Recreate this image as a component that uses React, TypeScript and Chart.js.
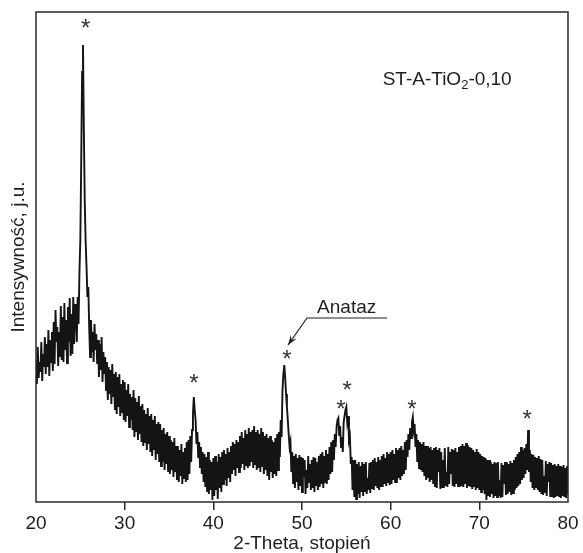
import React, { useEffect, useRef } from "react";
import { Chart, registerables } from "chart.js";

Chart.register(...registerables);

// Sampling grid of the diffractogram (2-Theta, degrees)
const ANGLE_START = 20;
const ANGLE_STEP = 0.1;

// Intensity (arbitrary units), one value per 0.1 deg
const intensity20to30 = [
  142, 118, 155, 124, 140, 130, 160, 121, 148, 135,
  165, 128, 158, 135, 172, 126, 162, 140, 170, 131,
  180, 138, 192, 160, 175, 136, 170, 145, 196, 142,
  185, 140, 199, 152, 182, 139, 195, 160, 204, 146,
  188, 148, 205, 158, 198, 190, 160, 205, 178, 230,
  262, 340, 430, 457, 370, 300, 260, 235, 205, 215,
  175, 145, 182, 150, 170, 140, 178, 152, 168, 138,
  162, 125, 158, 132, 165, 120, 150, 128, 145, 112,
  140, 102, 135, 108, 132, 98, 138, 105, 128, 92,
  130, 88, 125, 95, 128, 86, 118, 90, 122, 82,
];
const intensity30to40 = [
  120, 80, 112, 86, 118, 75, 108, 82, 105, 72,
  112, 65, 104, 70, 100, 62, 106, 68, 96, 60,
  98, 56, 92, 60, 88, 52, 94, 58, 86, 50,
  88, 46, 82, 52, 86, 42, 78, 48, 80, 40,
  78, 36, 72, 40, 74, 32, 68, 38, 70, 30,
  66, 28, 62, 32, 60, 25, 64, 30, 56, 22,
  56, 20, 52, 26, 58, 18, 50, 24, 54, 20,
  60, 22, 62, 28, 66, 40, 72, 88, 105, 92,
  82, 58, 70, 44, 60, 35, 55, 28, 50, 20,
  48, 15, 45, 10, 50, 8, 42, 12, 40, 2,
];
const intensity40to50 = [
  44, 6, 46, 12, 40, 3, 48, 14, 45, 10,
  50, 18, 52, 22, 48, 16, 54, 24, 50, 20,
  56, 28, 60, 32, 58, 26, 62, 34, 60, 30,
  66, 34, 70, 38, 64, 32, 72, 36, 68, 34,
  74, 36, 70, 40, 72, 34, 76, 38, 70, 32,
  72, 34, 68, 30, 74, 36, 70, 28, 66, 32,
  68, 26, 64, 22, 66, 30, 62, 24, 60, 28,
  64, 26, 68, 32, 70, 45, 82, 65, 112, 128,
  137, 125, 108, 95, 82, 68, 55, 60, 30, 50,
  18, 46, 14, 48, 20, 44, 12, 47, 16, 45,
];
const intensity50to60 = [
  10, 44, 25, 42, 8, 32, 14, 46, 20, 38,
  12, 42, 14, 45, 10, 44, 16, 40, 12, 46,
  15, 48, 18, 50, 14, 46, 20, 52, 18, 48,
  22, 55, 28, 60, 30, 62, 42, 68, 55, 75,
  82, 84, 66, 76, 55, 65, 50, 80, 86, 92,
  95, 80, 86, 62, 66, 38, 45, 12, 42, 5,
  42, 3, 38, 8, 40, 4, 36, 10, 40, 6,
  38, 10, 40, 8, 24, 12, 39, 9, 40, 14,
  42, 12, 44, 16, 40, 14, 45, 12, 42, 15,
  46, 15, 48, 18, 44, 16, 50, 20, 48, 17,
];
const intensity60to70 = [
  50, 18, 52, 22, 48, 20, 54, 19, 52, 24,
  54, 22, 56, 26, 52, 28, 60, 32, 62, 45,
  68, 52, 74, 64, 80, 85, 72, 78, 55, 68,
  40, 62, 34, 60, 32, 58, 30, 60, 26, 56,
  22, 56, 24, 54, 20, 55, 22, 52, 18, 54,
  16, 55, 14, 52, 30, 54, 13, 50, 15, 42,
  14, 54, 16, 30, 15, 55, 18, 50, 28, 53,
  16, 52, 15, 54, 18, 50, 16, 55, 15, 56,
  16, 58, 15, 56, 18, 59, 14, 57, 16, 55,
  15, 54, 13, 52, 16, 50, 12, 53, 14, 50,
];
const intensity70to80 = [
  12, 48, 10, 46, 12, 45, 8, 44, 2, 42,
  6, 42, 5, 40, 8, 38, 4, 40, 6, 39,
  5, 40, 6, 22, 4, 39, 5, 37, 18, 40,
  7, 40, 8, 38, 10, 41, 7, 39, 9, 42,
  12, 45, 14, 48, 16, 50, 18, 55, 22, 52,
  24, 54, 28, 58, 32, 72, 30, 52, 20, 48,
  14, 47, 12, 45, 15, 44, 12, 46, 10, 43,
  8, 42, 7, 26, 9, 41, 6, 38, 20, 40,
  5, 39, 6, 37, 4, 38, 5, 36, 6, 38,
  5, 36, 4, 35, 6, 37, 5, 34, 4, 36,
  8,
];

const X_MIN = 20;
const X_MAX = 80;
const X_STEP = 10;
const Y_MIN = 0;
const Y_MAX = 490;

// Asterisk markers over the anatase reflections
const starAngles = [25.6, 37.8, 48.3, 54.4, 55.1, 62.4, 75.4];
const starLevels = [480, 125, 149, 99, 118, 99, 89];

// Sample name
const sampleMain = "ST-A-TiO";
const sampleSub = "2";
const sampleTail = "-0,10";
const samplePos = [59.1, 417];

// "Anataz" call-out
const anatazText = "Anataz";
const anatazTextPos = [51.7, 189];
const anatazLineStart = [50.56, 184];
const anatazLineEnd = [59.6, 184];
const anatazArrowTip = [48.42, 157];

const xTitle = "2-Theta, stopień";
const yTitle = "Intensywność, j.u.";

const FONT = '"Liberation Sans", Arial, Helvetica, sans-serif';
const INK = "#1e1e1e";
const TRACE = "#141414";

const allIntensity = [
  ...intensity20to30,
  ...intensity30to40,
  ...intensity40to50,
  ...intensity50to60,
  ...intensity60to70,
  ...intensity70to80,
];

const annotationPlugin = {
  id: "xrdAnnotations",
  afterDatasetsDraw(chart: any) {
    const { ctx, chartArea, scales } = chart;
    const xs = scales.x;
    const ys = scales.y;
    const px = (v: number) => xs.getPixelForValue(v);
    const py = (v: number) => ys.getPixelForValue(v);
    ctx.save();

    // frame
    ctx.strokeStyle = "#2a2a2a";
    ctx.lineWidth = 1.5;
    ctx.strokeRect(
      chartArea.left,
      chartArea.top,
      chartArea.right - chartArea.left,
      chartArea.bottom - chartArea.top
    );

    // asterisks
    ctx.fillStyle = "#333";
    ctx.textAlign = "center";
    ctx.textBaseline = "alphabetic";
    ctx.font = `24px ${FONT}`;
    for (let i = 0; i < starAngles.length; i++) {
      ctx.fillText("*", px(starAngles[i]), py(starLevels[i]) + 14);
    }

    // sample name with subscript
    ctx.fillStyle = INK;
    ctx.textAlign = "left";
    let sx = px(samplePos[0]);
    const sy = py(samplePos[1]);
    ctx.font = `19px ${FONT}`;
    ctx.fillText(sampleMain, sx, sy);
    sx += ctx.measureText(sampleMain).width;
    ctx.font = `13px ${FONT}`;
    ctx.fillText(sampleSub, sx, sy + 4);
    sx += ctx.measureText(sampleSub).width;
    ctx.font = `19px ${FONT}`;
    ctx.fillText(sampleTail, sx, sy);

    // Anataz label + leader + arrow
    ctx.fillText(anatazText, px(anatazTextPos[0]), py(anatazTextPos[1]));
    ctx.strokeStyle = INK;
    ctx.lineWidth = 1.2;
    const ax0 = px(anatazLineStart[0]);
    const ay0 = py(anatazLineStart[1]);
    ctx.beginPath();
    ctx.moveTo(px(anatazLineEnd[0]), py(anatazLineEnd[1]));
    ctx.lineTo(ax0, ay0);
    const tx = px(anatazArrowTip[0]);
    const ty = py(anatazArrowTip[1]);
    ctx.lineTo(tx, ty);
    ctx.stroke();
    const dx = tx - ax0;
    const dy = ty - ay0;
    const len = Math.hypot(dx, dy);
    const ux = dx / len;
    const uy = dy / len;
    const headLen = 10;
    const headHalf = 3.5;
    const bx = tx - ux * headLen;
    const by = ty - uy * headLen;
    ctx.fillStyle = INK;
    ctx.beginPath();
    ctx.moveTo(tx, ty);
    ctx.lineTo(bx - uy * headHalf, by + ux * headHalf);
    ctx.lineTo(tx - ux * headLen * 0.6, ty - uy * headLen * 0.6);
    ctx.lineTo(bx + uy * headHalf, by - ux * headHalf);
    ctx.closePath();
    ctx.fill();

    ctx.restore();
  },
};

export default function App() {
  const canvasRef = useRef<HTMLCanvasElement | null>(null);

  useEffect(() => {
    const canvas = canvasRef.current;
    if (!canvas) return;
    const points = allIntensity.map((v, i) => ({
      x: Math.round((ANGLE_START + i * ANGLE_STEP) * 10) / 10,
      y: v,
    }));
    const chart = new Chart(canvas, {
      type: "line",
      data: {
        datasets: [
          {
            data: points,
            borderColor: TRACE,
            borderWidth: 1.9,
            pointRadius: 0,
            tension: 0,
            fill: false,
          },
        ],
      },
      options: {
        responsive: false,
        animation: false,
        events: [],
        layout: { padding: { top: 12, right: 15, left: 0, bottom: 0 } },
        plugins: {
          legend: { display: false },
          tooltip: { enabled: false },
          title: { display: false },
        },
        scales: {
          x: {
            type: "linear",
            min: X_MIN,
            max: X_MAX,
            afterFit: (s: any) => {
              s.height = 51;
            },
            ticks: {
              stepSize: X_STEP,
              color: INK,
              padding: 2,
              font: { family: FONT, size: 19 },
            },
            grid: {
              drawOnChartArea: false,
              drawTicks: true,
              tickLength: 8,
              lineWidth: 1.5,
              color: (c: any) =>
                c.tick && (c.tick.value === X_MIN || c.tick.value === X_MAX)
                  ? "rgba(0,0,0,0)"
                  : "#2a2a2a",
            },
            border: { display: false },
            title: {
              display: true,
              text: xTitle,
              color: INK,
              font: { family: FONT, size: 19, lineHeight: 1 },
              padding: { top: 0, bottom: 0 },
            },
          },
          y: {
            type: "linear",
            min: Y_MIN,
            max: Y_MAX,
            afterFit: (s: any) => {
              s.width = 36;
            },
            ticks: { display: false },
            grid: { display: false },
            border: { display: false },
            title: {
              display: true,
              text: yTitle,
              color: INK,
              font: { family: FONT, size: 19, lineHeight: 1.2 },
              padding: { top: 7, bottom: 0 },
            },
          },
        },
      },
      plugins: [annotationPlugin],
    });
    return () => chart.destroy();
  }, []);

  return (
    <div style={{ position: "absolute", left: 0, top: 0, width: 583, height: 553 }}>
      <canvas
        ref={canvasRef}
        width={583}
        height={553}
        style={{ display: "block", width: 583, height: 553 }}
      />
    </div>
  );
}
